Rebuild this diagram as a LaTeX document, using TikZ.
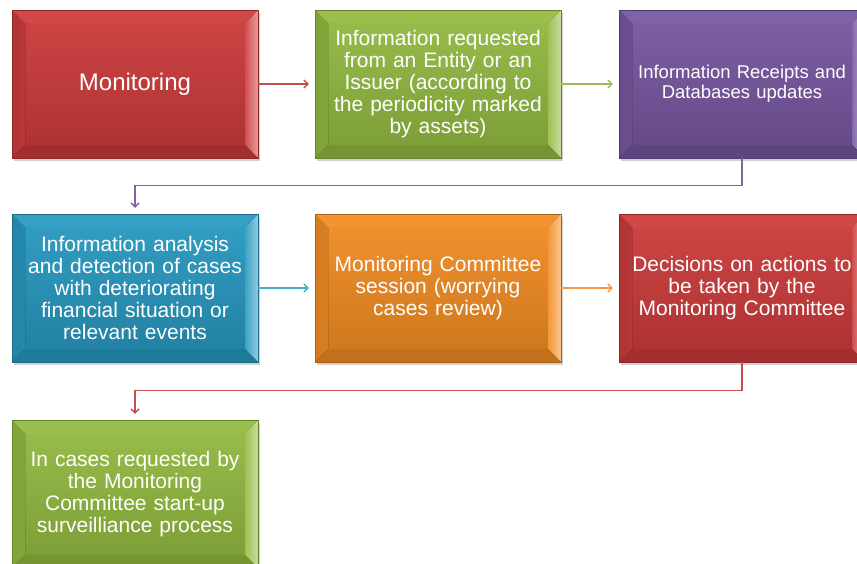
\documentclass[tikz,border=0pt]{standalone}
\usepackage{fontspec}
\setmainfont{Liberation Sans}
\usetikzlibrary{arrows.meta,shadows,calc}

\definecolor{mred}{RGB}{204,58,58}
\definecolor{mgreen}{RGB}{146,186,64}
\definecolor{mpurple}{RGB}{118,86,160}
\definecolor{mblue}{RGB}{38,152,192}
\definecolor{morange}{RGB}{242,140,34}
\definecolor{lred}{RGB}{192,80,77}
\definecolor{lgreen}{RGB}{155,187,89}
\definecolor{lpurple}{RGB}{128,100,162}
\definecolor{lblue}{RGB}{75,172,198}
\definecolor{lorange}{RGB}{247,150,70}

\tikzset{
  stage/.style={rectangle, minimum width=246pt, minimum height=148pt, inner sep=0pt,
    text width=226pt, align=center, text=white, font=\fontsize{21}{22}\selectfont,
    draw=#1!70!black, line width=0.4pt, top color=#1!94!white, bottom color=#1!84!black,
    drop shadow={shadow xshift=2pt, shadow yshift=-3pt, opacity=0.3, fill=black!60},
    path picture={
      % left and right bevel
      \fill[left color=#1!88!black, right color=#1!60!white]
        (path picture bounding box.south west) -- (path picture bounding box.north west)
        -- ([shift={(13pt,-13pt)}]path picture bounding box.north west)
        -- ([shift={(13pt,13pt)}]path picture bounding box.south west) -- cycle;
      \fill[left color=#1!90!white, right color=#1!50!white]
        (path picture bounding box.south east) -- (path picture bounding box.north east)
        -- ([shift={(-13pt,-13pt)}]path picture bounding box.north east)
        -- ([shift={(-13pt,13pt)}]path picture bounding box.south east) -- cycle;
      % top and bottom bevel
      \fill[#1!93!white]
        (path picture bounding box.north west) -- (path picture bounding box.north east)
        -- ([shift={(-13pt,-13pt)}]path picture bounding box.north east)
        -- ([shift={(13pt,-13pt)}]path picture bounding box.north west) -- cycle;
      \fill[#1!80!black]
        (path picture bounding box.south west) -- (path picture bounding box.south east)
        -- ([shift={(-13pt,13pt)}]path picture bounding box.south east)
        -- ([shift={(13pt,13pt)}]path picture bounding box.south west) -- cycle;
    }},
  link/.style={draw=#1, line width=1.3pt, -{Straight Barb[length=4pt,width=8pt]}, shorten >=6pt}
}

\begin{document}
\begin{tikzpicture}[x=1pt,y=-1pt]
  \useasboundingbox (0,0) rectangle (857,563);
  \clip (0,0) rectangle (857,563);

  % first row
  \node[stage=mred, font=\fontsize{24}{28}\selectfont] (mon) at (135,84) {\raisebox{-2pt}{Monitoring}};
  \node[stage=mgreen] (req) at (438,84) {Information requested\\from an Entity or an\\Issuer (according to\\the periodicity marked\\by assets)};
  \node[stage=mpurple, font=\fontsize{18.5}{20}\selectfont] (rec) at (742,84) {Information Receipts and\\Databases updates};

  % second row
  \node[stage=mblue] (ana) at (135,288) {Information analysis\\and detection of cases\\with deteriorating\\financial situation or\\relevant events};
  \node[stage=morange] (ses) at (438,288) {Monitoring Committee\\session (worrying\\cases review)};
  \node[stage=mred] (dec) at (742,288) {Decisions on actions to\\be taken by the\\Monitoring Committee};

  % third row
  \node[stage=mgreen] (surv) at (135,494) {In cases requested by\\the Monitoring\\Committee start-up\\surveilliance process};

  \draw[link=lred] (mon.east) -- (req.west);
  \draw[link=lgreen] (req.east) -- (rec.west);
  \draw[link=lpurple] (rec.south) -- ++(0,27) -| (ana.north);
  \draw[link=lblue] (ana.east) -- (ses.west);
  \draw[link=lorange] (ses.east) -- (dec.west);
  \draw[link=lred] (dec.south) -- ++(0,28) -| (surv.north);
\end{tikzpicture}
\end{document}
